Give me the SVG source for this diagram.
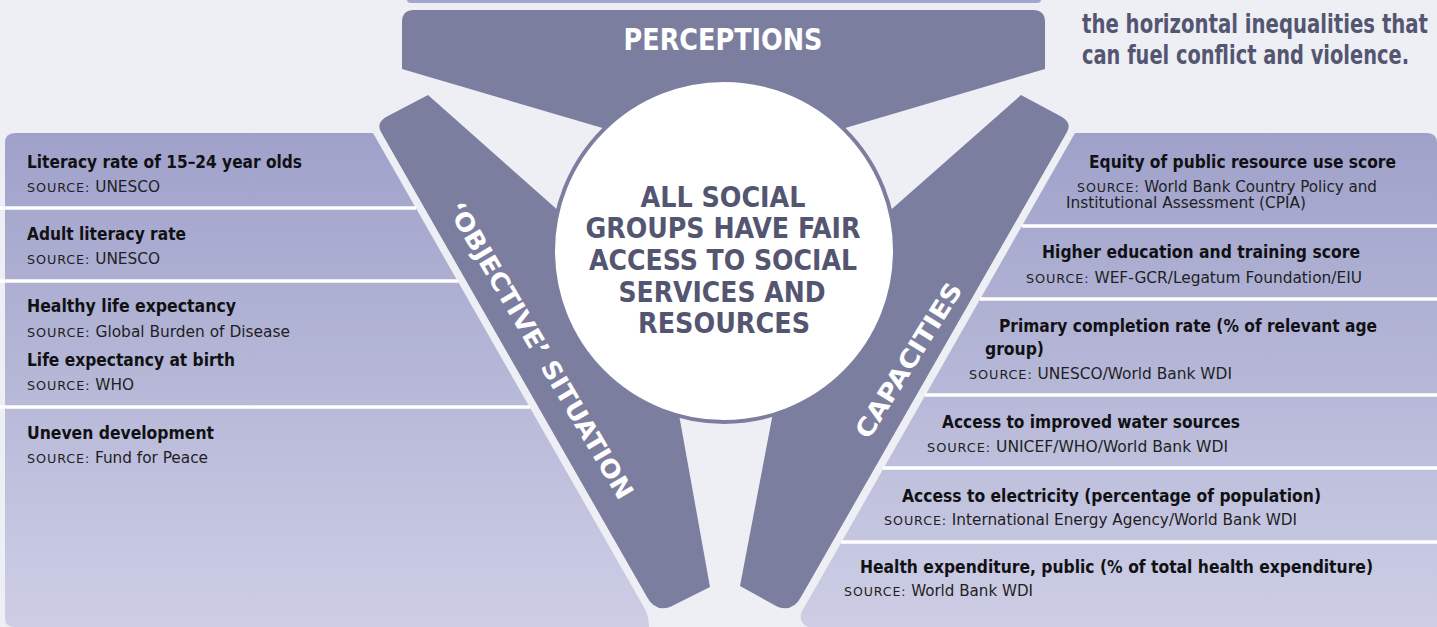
<svg xmlns="http://www.w3.org/2000/svg" width="1437" height="627" viewBox="0 0 1437 627">
<defs>
<linearGradient id="panelGrad" gradientUnits="userSpaceOnUse" x1="0" y1="133" x2="0" y2="627">
<stop offset="0" stop-color="#9FA1CA"/>
<stop offset="1" stop-color="#CDCEE5"/>
</linearGradient>
<style>
.band{fill:#7C7EA0}
.panel{fill:url(#panelGrad)}
.div{stroke:#FFFFFF;stroke-width:3.5;fill:none}
.t{font-family:"Liberation Sans Narrow","DejaVu Sans Condensed","Roboto Condensed","Liberation Sans",sans-serif;font-weight:bold;font-size:18px;fill:#111114}
.s{font-family:"Liberation Sans Narrow","DejaVu Sans Condensed","Roboto Condensed","Liberation Sans",sans-serif;font-size:15px;fill:#1E1E24}
.sc{font-size:12.5px;letter-spacing:0.8px}
.big{font-family:"Liberation Sans Narrow","DejaVu Sans Condensed","Roboto Condensed","Liberation Sans",sans-serif;font-weight:bold}
.wt{fill:#FFFFFF}
.dk{fill:#545671}
</style>
</defs>
<rect x="0" y="0" width="1437" height="627" fill="#EEEFF5"/>

<g id="top-strip">
<path d="M407,-5 H1041 V0 Q1041,3 1037,3 H411 Q407,3 407,0 Z" fill="#A3A5CE"/>
</g>

<g id="intro-text">
<text class="big dk" x="1082" y="33" font-size="26" textLength="346" lengthAdjust="spacingAndGlyphs">the horizontal inequalities that</text>
<text class="big dk" x="1082" y="64" font-size="26" textLength="327" lengthAdjust="spacingAndGlyphs">can fuel conflict and violence.</text>
</g>

<g id="panel-left">
<path class="panel" d="M15,133 H373 L645,609 Q649,617 649,627 H15 Q5,627 5,619 V143 Q5,133 15,133 Z"/>
<line class="div" x1="0" y1="208" x2="416" y2="208"/>
<line class="div" x1="0" y1="281" x2="458" y2="281"/>
<line class="div" x1="0" y1="407" x2="530" y2="407"/>
<text class="t" x="27" y="168" textLength="275" lengthAdjust="spacingAndGlyphs">Literacy rate of 15–24 year olds</text>
<text class="s" x="27" y="192" textLength="133" lengthAdjust="spacingAndGlyphs"><tspan class="sc">SOURCE:</tspan> UNESCO</text>
<text class="t" x="27" y="240" textLength="159" lengthAdjust="spacingAndGlyphs">Adult literacy rate</text>
<text class="s" x="27" y="264" textLength="133" lengthAdjust="spacingAndGlyphs"><tspan class="sc">SOURCE:</tspan> UNESCO</text>
<text class="t" x="27" y="312" textLength="209" lengthAdjust="spacingAndGlyphs">Healthy life expectancy</text>
<text class="s" x="27" y="337" textLength="263" lengthAdjust="spacingAndGlyphs"><tspan class="sc">SOURCE:</tspan> Global Burden of Disease</text>
<text class="t" x="27" y="366" textLength="208" lengthAdjust="spacingAndGlyphs">Life expectancy at birth</text>
<text class="s" x="27" y="390" textLength="107" lengthAdjust="spacingAndGlyphs"><tspan class="sc">SOURCE:</tspan> WHO</text>
<text class="t" x="27" y="439" textLength="187" lengthAdjust="spacingAndGlyphs">Uneven development</text>
<text class="s" x="27" y="463" textLength="181" lengthAdjust="spacingAndGlyphs"><tspan class="sc">SOURCE:</tspan> Fund for Peace</text>
</g>

<g id="panel-right">
<path class="panel" d="M1075,133 H1427 Q1437,133 1437,143 V627 H808 Q799,624 801,613 Z"/>
<line class="div" x1="1022" y1="226" x2="1437" y2="226"/>
<line class="div" x1="980" y1="299" x2="1437" y2="299"/>
<line class="div" x1="925" y1="395" x2="1437" y2="395"/>
<line class="div" x1="883" y1="468" x2="1437" y2="468"/>
<line class="div" x1="841" y1="542" x2="1437" y2="542"/>
<text class="t" x="1089" y="168" textLength="307" lengthAdjust="spacingAndGlyphs">Equity of public resource use score</text>
<text class="s" x="1077" y="192" textLength="300" lengthAdjust="spacingAndGlyphs"><tspan class="sc">SOURCE:</tspan> World Bank Country Policy and</text>
<text class="s" x="1066" y="208" textLength="240" lengthAdjust="spacingAndGlyphs">Institutional Assessment (CPIA)</text>
<text class="t" x="1042" y="258" textLength="318" lengthAdjust="spacingAndGlyphs">Higher education and training score</text>
<text class="s" x="1026" y="283" textLength="336" lengthAdjust="spacingAndGlyphs"><tspan class="sc">SOURCE:</tspan> WEF-GCR/Legatum Foundation/EIU</text>
<text class="t" x="999" y="332" textLength="378" lengthAdjust="spacingAndGlyphs">Primary completion rate (% of relevant age</text>
<text class="t" x="985" y="355" textLength="59" lengthAdjust="spacingAndGlyphs">group)</text>
<text class="s" x="969" y="379" textLength="263" lengthAdjust="spacingAndGlyphs"><tspan class="sc">SOURCE:</tspan> UNESCO/World Bank WDI</text>
<text class="t" x="942" y="428" textLength="298" lengthAdjust="spacingAndGlyphs">Access to improved water sources</text>
<text class="s" x="927" y="452" textLength="301" lengthAdjust="spacingAndGlyphs"><tspan class="sc">SOURCE:</tspan> UNICEF/WHO/World Bank WDI</text>
<text class="t" x="902" y="502" textLength="419" lengthAdjust="spacingAndGlyphs">Access to electricity (percentage of population)</text>
<text class="s" x="884" y="525" textLength="413" lengthAdjust="spacingAndGlyphs"><tspan class="sc">SOURCE:</tspan> International Energy Agency/World Bank WDI</text>
<text class="t" x="860" y="573" textLength="513" lengthAdjust="spacingAndGlyphs">Health expenditure, public (% of total health expenditure)</text>
<text class="s" x="844" y="596" textLength="189" lengthAdjust="spacingAndGlyphs"><tspan class="sc">SOURCE:</tspan> World Bank WDI</text>
</g>

<g id="node-perceptions">
<path class="band" d="M414,10 H1033 Q1045,10 1045,22 V69 L808,139 L640,139 L402,69 V22 Q402,10 414,10 Z"/>
<text class="big wt" x="723" y="50" font-size="30" text-anchor="middle" textLength="199" lengthAdjust="spacingAndGlyphs">PERCEPTIONS</text>
</g>

<g id="node-objective">
<path class="band" d="M428,95 L386,117 Q376,123 381,132 L647,597 Q655,612 670,607 L710,587 L680,420 L648,290 Z"/>
<text class="big wt" font-size="25" text-anchor="middle" transform="translate(533,355) rotate(59.5)" textLength="340" lengthAdjust="spacingAndGlyphs">‘OBJECTIVE’ SITUATION</text>
</g>

<g id="node-capacities">
<path class="band" d="M1021,95 L1062,117 Q1072,123 1067,132 L801,597 Q793,612 778,607 L740,586 L772,418 L800,290 Z"/>
<text class="big wt" font-size="25" text-anchor="middle" transform="translate(916,365) rotate(-58)" textLength="178" lengthAdjust="spacingAndGlyphs">CAPACITIES</text>
</g>

<g id="node-center">
<circle cx="724" cy="251" r="171" fill="#FFFFFF" stroke="#7C7EA0" stroke-width="4"/>
<text class="big dk" font-size="28" text-anchor="middle" x="723" y="207" textLength="165" lengthAdjust="spacingAndGlyphs">ALL SOCIAL</text>
<text class="big dk" font-size="28" text-anchor="middle" x="723" y="238" textLength="275" lengthAdjust="spacingAndGlyphs">GROUPS HAVE FAIR</text>
<text class="big dk" font-size="28" text-anchor="middle" x="723" y="270" textLength="268" lengthAdjust="spacingAndGlyphs">ACCESS TO SOCIAL</text>
<text class="big dk" font-size="28" text-anchor="middle" x="722" y="302" textLength="207" lengthAdjust="spacingAndGlyphs">SERVICES AND</text>
<text class="big dk" font-size="28" text-anchor="middle" x="724" y="333" textLength="172" lengthAdjust="spacingAndGlyphs">RESOURCES</text>
</g>

<g id="connectors"></g>
</svg>
